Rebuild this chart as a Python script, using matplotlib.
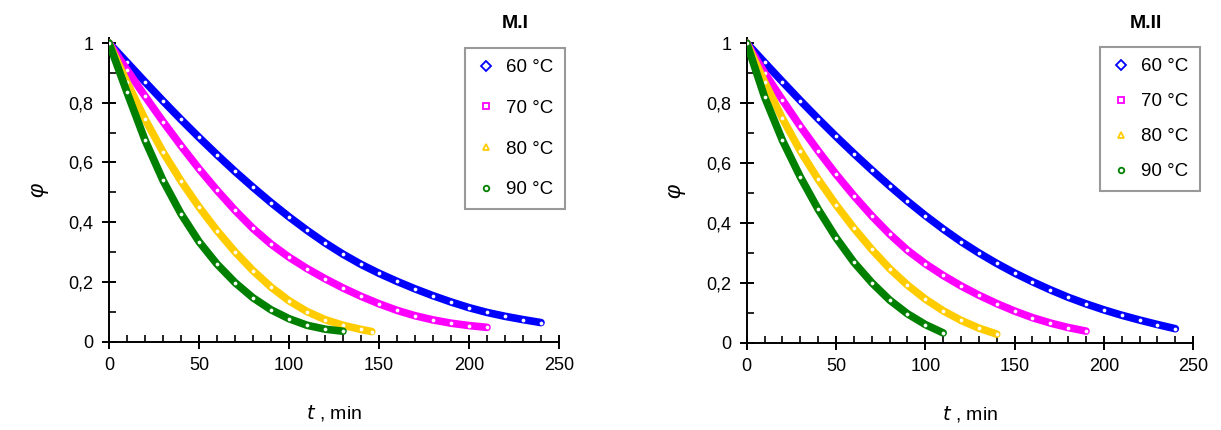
import matplotlib
matplotlib.use("Agg")
import matplotlib.pyplot as plt
from matplotlib.lines import Line2D
from matplotlib.ticker import MultipleLocator, FuncFormatter

plt.rcParams['font.family'] = ['Liberation Sans', 'DejaVu Sans']

# ---------------- data ----------------
temps = ["60 °C", "70 °C", "80 °C", "90 °C"]
panel_titles = ["M.I", "M.II"]

# M.I
t_mi_60 = [0, 10, 20, 30, 40, 50, 60, 70, 80, 90, 100, 110, 120, 130, 140, 150, 160, 170, 180, 190, 200, 210, 220, 230, 240]
phi_mi_60 = [1.0, 0.935, 0.870, 0.806, 0.744, 0.684, 0.626, 0.570, 0.517, 0.466, 0.418, 0.373, 0.331, 0.293, 0.259, 0.229, 0.202, 0.177, 0.154, 0.133, 0.114, 0.098, 0.085, 0.074, 0.064]
t_mi_70 = [0, 10, 20, 30, 40, 50, 60, 70, 80, 90, 100, 110, 120, 130, 140, 150, 160, 170, 180, 190, 200, 210]
phi_mi_70 = [1.0, 0.910, 0.822, 0.737, 0.656, 0.579, 0.507, 0.440, 0.379, 0.327, 0.283, 0.245, 0.211, 0.180, 0.152, 0.127, 0.105, 0.087, 0.073, 0.062, 0.054, 0.048]
t_mi_80 = [0, 10, 20, 30, 40, 50, 60, 70, 80, 90, 100, 110, 120, 130, 140, 146]
phi_mi_80 = [1.0, 0.868, 0.745, 0.635, 0.538, 0.451, 0.372, 0.301, 0.238, 0.183, 0.137, 0.101, 0.074, 0.055, 0.041, 0.034]
t_mi_90 = [0, 10, 20, 30, 40, 50, 60, 70, 80, 90, 100, 110, 120, 130]
phi_mi_90 = [1.0, 0.835, 0.675, 0.540, 0.428, 0.335, 0.260, 0.198, 0.147, 0.107, 0.077, 0.055, 0.042, 0.035]

# M.II
t_mii_60 = [0, 10, 20, 30, 40, 50, 60, 70, 80, 90, 100, 110, 120, 130, 140, 150, 160, 170, 180, 190, 200, 210, 220, 230, 240]
phi_mii_60 = [1.0, 0.935, 0.871, 0.808, 0.747, 0.688, 0.631, 0.576, 0.523, 0.472, 0.424, 0.379, 0.337, 0.299, 0.264, 0.232, 0.203, 0.176, 0.151, 0.129, 0.109, 0.091, 0.075, 0.060, 0.046]
t_mii_70 = [0, 10, 20, 30, 40, 50, 60, 70, 80, 90, 100, 110, 120, 130, 140, 150, 160, 170, 180, 190]
phi_mii_70 = [1.0, 0.900, 0.810, 0.722, 0.640, 0.562, 0.490, 0.423, 0.362, 0.308, 0.263, 0.224, 0.189, 0.158, 0.130, 0.105, 0.083, 0.065, 0.050, 0.038]
t_mii_80 = [0, 10, 20, 30, 40, 50, 60, 70, 80, 90, 100, 110, 120, 130, 140]
phi_mii_80 = [1.0, 0.870, 0.748, 0.640, 0.545, 0.460, 0.382, 0.311, 0.247, 0.192, 0.145, 0.106, 0.074, 0.048, 0.028]
t_mii_90 = [0, 10, 20, 30, 40, 50, 60, 70, 80, 90, 100, 110]
phi_mii_90 = [1.0, 0.820, 0.675, 0.553, 0.445, 0.350, 0.268, 0.200, 0.142, 0.096, 0.060, 0.032]

x_ticks = [0, 50, 100, 150, 200, 250]
y_ticks = [0, 0.2, 0.4, 0.6, 0.8, 1.0]

colors = ["#0000FF", "#FF00FF", "#FFCC00", "#008000"]
markers = ["D", "s", "^", "o"]

panels = [
    [(t_mi_60, phi_mi_60), (t_mi_70, phi_mi_70), (t_mi_80, phi_mi_80), (t_mi_90, phi_mi_90)],
    [(t_mii_60, phi_mii_60), (t_mii_70, phi_mii_70), (t_mii_80, phi_mii_80), (t_mii_90, phi_mii_90)],
]

W, H = 1221, 430
fig = plt.figure(figsize=(W / 100, H / 100), dpi=100)

# axes rectangles in pixels: (x for t=0, x-span, y for phi=0, top y)
ax_px = [(109, 450, 341.7, 38), (746.7, 446.5, 342.5, 38)]
legend_px = [(465, 48, 1.25, 515, 24), (1100, 47, 0.95, 1146, 24)]


def fmt(v, pos):
    if abs(v - round(v)) < 1e-9:
        return "%d" % round(v)
    return ("%.1f" % v).replace(".", ",")


for i, series in enumerate(panels):
    x0, xs, yb, yt = ax_px[i]
    ax = fig.add_axes([x0 / W, (H - yb) / H, xs / W, (yb - yt) / H])
    for (t, p), c, m in zip(series, colors, markers):
        ax.plot(t, p, color=c, lw=5.5, solid_capstyle='round', solid_joinstyle='round',
                marker='o', markersize=2.2, markerfacecolor='white', markeredgecolor='white',
                markeredgewidth=0.5, zorder=3)
    ax.set_xlim(0, 250)
    ax.set_ylim(0, 1.0 + 5 / (yb - 43.5))
    ax.set_xticks(x_ticks)
    ax.set_yticks(y_ticks)
    ax.xaxis.set_minor_locator(MultipleLocator(10))
    ax.yaxis.set_minor_locator(MultipleLocator(0.1))
    ax.xaxis.set_major_formatter(FuncFormatter(fmt))
    ax.yaxis.set_major_formatter(FuncFormatter(fmt))
    for s in ["top", "right"]:
        ax.spines[s].set_visible(False)
    for s in ["left", "bottom"]:
        ax.spines[s].set_linewidth(1.4)
        ax.spines[s].set_color("black")
    ax.tick_params(which="major", direction="inout", length=10, width=1.4, labelsize=13, pad=6)
    ax.tick_params(which="minor", direction="in", length=5, width=1.2)
    ax.set_facecolor("none")
    ax.set_xlabel(r"$\it{t}$ , min", fontsize=14, labelpad=21)
    ax.set_ylabel("φ", fontsize=16, rotation=90, style="italic", labelpad=15)

    lx, ly, lsp, tx, ty = legend_px[i]
    handles = [Line2D([], [], linestyle="none", marker=m, markersize=5 if m != "o" else 4,
                      markerfacecolor="white", markeredgecolor=c, markeredgewidth=1.3)
               for c, m in zip(colors, markers)]
    leg = fig.legend(handles, temps, loc="upper left", bbox_to_anchor=(lx / W, 1 - ly / H),
                     bbox_transform=fig.transFigure, borderaxespad=0, fontsize=13.5,
                     labelspacing=lsp, handlelength=1.0, handletextpad=0.6,
                     borderpad=0.6, frameon=True, fancybox=False, shadow=False)
    fr = leg.get_frame()
    fr.set_edgecolor("#808080")
    fr.set_linewidth(1.5)
    fig.text(tx / W, 1 - ty / H, panel_titles[i], fontsize=14, fontweight="heavy",
             ha="center", va="center")

fig.savefig("out.png", dpi=100)
